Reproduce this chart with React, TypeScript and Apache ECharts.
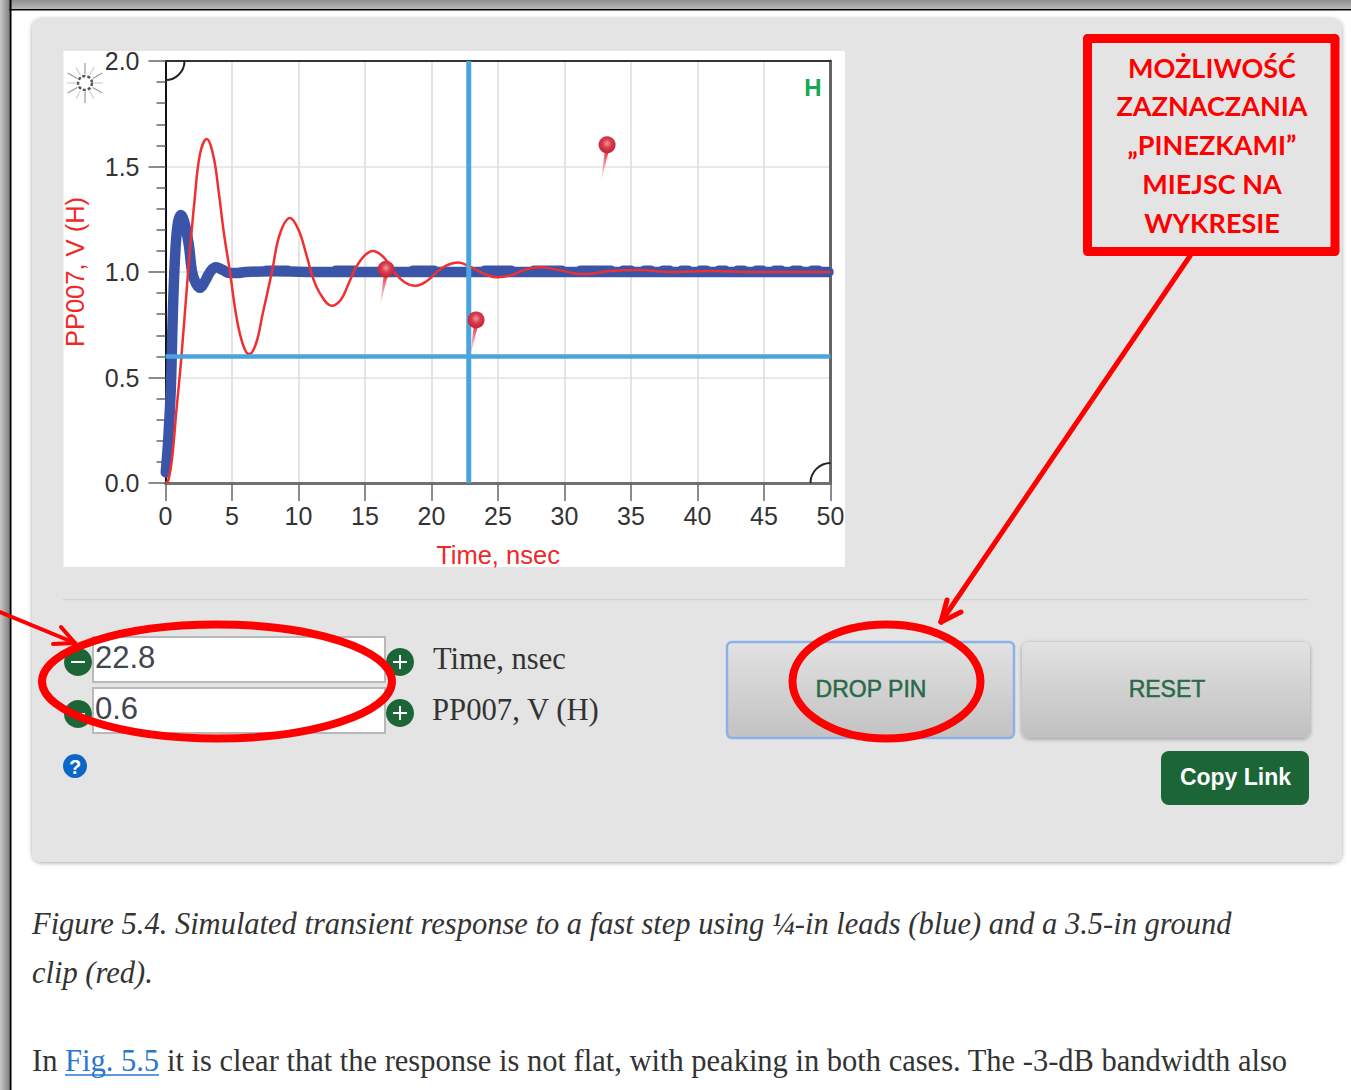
import React, { useEffect, useRef } from "react";
import * as echarts from "echarts";

const redTimes = [0, 0.2, 0.5, 0.8, 1.2, 1.7, 2.2, 2.6, 3.1, 3.6, 4.0, 4.4, 4.85, 5.3, 5.8, 6.28, 6.8, 7.3, 8.0, 8.6, 9.36, 10.0, 10.6, 11.1, 11.6, 12.5, 13.2, 13.8, 14.3, 15.0, 15.6, 16.4, 17.2, 18.0, 18.8, 19.6, 20.4, 21.1, 22.0, 22.9, 24.0, 25.0, 26.0, 27.0, 28.2, 29.5, 31.4, 33.5, 35.5, 38.0, 41.0, 44.0, 47.0, 50.0];
const redValues = [0, 0.01, 0.12, 0.33, 0.6, 1.0, 1.35, 1.56, 1.63, 1.55, 1.38, 1.18, 1.0, 0.8, 0.66, 0.61, 0.66, 0.8, 1.0, 1.18, 1.256, 1.2, 1.08, 0.97, 0.9, 0.84, 0.87, 0.95, 1.02, 1.08, 1.1, 1.07, 1.0, 0.95, 0.935, 0.955, 1.0, 1.03, 1.045, 1.025, 0.99, 0.975, 0.985, 1.01, 1.023, 1.01, 0.99, 1.005, 1.01, 1.0, 1.005, 1.0, 1.0, 1.0];

const blueTimes = [0.02, 0.2, 0.4, 0.55, 0.7, 0.9, 1.15, 1.4, 1.75, 2.0, 2.3, 2.6, 3.0, 3.4, 3.8, 4.3, 4.8, 5.4, 6.0, 8.0, 12.0, 20.0, 30.0, 40.0, 49.85];
const blueValues = [0.05, 0.2, 0.45, 0.8, 1.05, 1.22, 1.27, 1.24, 1.13, 1.0, 0.945, 0.925, 0.96, 1.005, 1.022, 1.01, 0.995, 0.995, 1.0, 1.003, 1.0, 1.0, 1.0, 1.0, 1.0];

const blueBumpStarts = [7.6, 12.8, 18.6, 24.0, 27.7, 31.2, 34.4, 36.0, 37.4, 38.8, 40.2, 41.6, 43.0, 44.4, 45.8, 47.2, 48.6];
const blueBumpEnds = [9.2, 14.2, 20.2, 26.0, 29.8, 33.5, 35.0, 36.5, 37.9, 39.3, 40.7, 42.1, 43.5, 44.9, 46.3, 47.7, 49.1];
const blueBumpLevel = 1.012;

const pinTimes = [16.13, 22.9, 32.75];
const pinValues = [0.84, 0.6, 1.43];

const cursorTime = 22.8;
const cursorValue = 0.6;

const yTickLabels = ["0.0", "0.5", "1.0", "1.5", "2.0"];
const xName = "Time, nsec";
const yName = "PP007, V (H)";
const annotationLines = ["MOŻLIWOŚĆ", "ZAZNACZANIA", "„PINEZKAMI”", "MIEJSC NA", "WYKRESIE"];

const GREEN = "#1b6537";
const RED = "#ff0000";
const SANS = "Liberation Sans";
const SERIF = "Liberation Serif";

function txt(x: number, y: number, text: string, font: string, fill: string, align = "left", z = 5, extra: any = {}) {
  return { type: "text", z, silent: true, style: { x, y, text, font, fill, align, verticalAlign: "middle", ...extra } };
}
function rect(x: number, y: number, width: number, height: number, style: any, r = 0, z = -1) {
  return { type: "rect", z, silent: true, shape: { x, y, width, height, r }, style };
}
function seg(x1: number, y1: number, x2: number, y2: number, stroke: string, lineWidth: number, z = 50, cap = "round") {
  return { type: "line", z, silent: true, shape: { x1, y1, x2, y2 }, style: { stroke, lineWidth, lineCap: cap } };
}
function vGrad(a: string, b: string) {
  return new echarts.graphic.LinearGradient(0, 0, 0, 1, [{ offset: 0, color: a }, { offset: 1, color: b }]);
}
function hGrad(a: string, b: string) {
  return new echarts.graphic.LinearGradient(0, 0, 1, 0, [{ offset: 0, color: a }, { offset: 1, color: b }]);
}
function stepButton(cx: number, cy: number, plus: boolean) {
  const items: any[] = [
    { type: "circle", z: 3, silent: true, shape: { cx, cy, r: 14 }, style: { fill: GREEN } },
    seg(cx - 7, cy, cx + 7, cy, "#ffffff", 2, 4, "butt"),
  ];
  if (plus) items.push(seg(cx, cy - 7, cx, cy + 7, "#ffffff", 2, 4, "butt"));
  return items;
}
function logo(cx: number, cy: number) {
  const items: any[] = [
    { type: "circle", z: 3, silent: true, shape: { cx, cy, r: 7 }, style: { fill: "none", stroke: "#555", lineWidth: 2.5, lineDash: [3, 2] } },
  ];
  for (let i = 0; i < 12; i++) {
    const a = (i * Math.PI) / 6;
    const major = i % 2 === 1;
    const r2 = major ? 20 : 18;
    items.push(seg(cx + Math.cos(a) * 9, cy + Math.sin(a) * 9, cx + Math.cos(a) * r2, cy + Math.sin(a) * r2, major ? "#9a9a9a" : "#d0d0d0", 1.2, 3, "butt"));
  }
  return items;
}

function pinItem(params: any, api: any) {
  const [x, y] = api.coord([api.value(0), api.value(1)]);
  return {
    type: "group",
    children: [
      {
        type: "polygon",
        shape: { points: [[x, y], [x + 3.5, y - 29], [x + 7.5, y - 29]] },
        style: { fill: new echarts.graphic.LinearGradient(0, 0, 0, 1, [{ offset: 0, color: "#f04050" }, { offset: 1, color: "rgba(250,130,140,0.15)" }]) },
      },
      {
        type: "circle",
        shape: { cx: x + 6, cy: y - 36.5, r: 8.5 },
        style: {
          fill: new echarts.graphic.RadialGradient(0.5, 0.42, 0.6, [
            { offset: 0, color: "#ec9aa0" },
            { offset: 0.45, color: "#d93a4c" },
            { offset: 1, color: "#c22034" },
          ]),
        },
      },
    ],
  };
}

export default function App() {
  const ref = useRef<HTMLDivElement>(null);
  useEffect(() => {
    const chart = echarts.init(ref.current!, undefined, { renderer: "svg" });
    const bumps: any[] = [];
    blueBumpStarts.forEach((s, i) => {
      bumps.push([s, blueBumpLevel], [blueBumpEnds[i], blueBumpLevel], [null, null]);
    });
    const labelStyle = { color: "#333", fontFamily: SANS, fontSize: 25 };
    const nameStyle = { color: "#f02828", fontFamily: SANS, fontSize: 25.5 };
    const btnStroke = { stroke: "#2a6a4a", lineWidth: 0.5 };
    const graphic: any[] = [
      rect(0, 0, 1351, 1090, { fill: "#ffffff" }, 0, -5),
      rect(0, 0, 1351, 9, { fill: vGrad("#8f8f8f", "#b8b8b8") }, 0, -4),
      rect(0, 9, 1351, 1.6, { fill: "#000" }, 0, -4),
      rect(0, 0, 9.5, 1090, { fill: hGrad("#c8c8c8", "#808080") }, 0, -4),
      rect(9.5, 0, 2, 1090, { fill: "#000" }, 0, -4),
      rect(32, 18, 1310, 844, { fill: "#e4e4e4", shadowBlur: 4, shadowColor: "rgba(0,0,0,0.35)", shadowOffsetY: 1 }, 9, -3),
      rect(63.5, 51, 781.5, 516, { fill: "#ffffff" }, 0, -2),
      seg(63, 599.5, 1308, 599.5, "#d2d2d2", 1.5, -2, "butt"),

      // inputs
      rect(93, 637, 292, 45, { fill: "#fff", stroke: "#b9b9b9", lineWidth: 2 }, 0, 4),
      rect(93, 688, 292, 45, { fill: "#fff", stroke: "#b9b9b9", lineWidth: 2 }, 0, 4),
      txt(95, 657.5, "22.8", `31px "${SANS}"`, "#3f4650"),
      txt(95, 708.5, "0.6", `31px "${SANS}"`, "#3f4650"),
      ...stepButton(78, 662, false),
      ...stepButton(78, 714, false),
      ...stepButton(400, 662, true),
      ...stepButton(400, 713, true),
      txt(433, 659, "Time, nsec", `30.5px "${SERIF}"`, "#333"),
      txt(432, 710, "PP007, V (H)", `30.7px "${SERIF}"`, "#333"),
      { type: "circle", z: 3, silent: true, shape: { cx: 75, cy: 766, r: 12 }, style: { fill: "#0a66c8" } },
      txt(75, 767, "?", `bold 20px "${SANS}"`, "#fff", "center"),

      // buttons
      rect(727, 642, 287, 96, { fill: vGrad("#e2e2e2", "#c2c2c2"), stroke: "#8cb0e8", lineWidth: 2.5 }, 5, 2),
      rect(1022, 642, 288, 96, { fill: vGrad("#e2e2e2", "#c0c0c0"), shadowBlur: 4, shadowColor: "rgba(0,0,0,0.35)", shadowOffsetY: 1 }, 7, 2),
      txt(871, 689, "DROP PIN", `23px "${SANS}"`, "#2a6a4a", "center", 5, btnStroke),
      txt(1167, 689, "RESET", `23px "${SANS}"`, "#2a6a4a", "center", 5, btnStroke),
      rect(1161, 751, 148, 54, { fill: GREEN }, 8, 2),
      txt(1235.5, 777, "Copy Link", `bold 23px "${SANS}"`, "#ffffff", "center"),

      // caption
      txt(32, 924, "Figure 5.4. Simulated transient response to a fast step using ¼-in leads (blue) and a 3.5-in ground", `italic 30.5px "${SERIF}"`, "#333"),
      txt(32, 973, "clip (red).", `italic 30.5px "${SERIF}"`, "#333"),
      txt(32, 1061, "In", `30.5px "${SERIF}"`, "#333"),
      txt(65, 1061, "Fig. 5.5", `30.5px "${SERIF}"`, "#2a77cc"),
      seg(65, 1075, 159, 1075, "#2a77cc", 1.5, 5, "butt"),
      txt(167, 1061, "it is clear that the response is not flat, with peaking in both cases. The -3-dB bandwidth also", `30.5px "${SERIF}"`, "#333"),

      // plot decoration
      { type: "arc", z: 20, silent: true, shape: { cx: 165.5, cy: 61, r: 19, startAngle: 0, endAngle: Math.PI / 2 }, style: { stroke: "#222", lineWidth: 2, fill: "none" } },
      { type: "arc", z: 20, silent: true, shape: { cx: 830.5, cy: 483, r: 20, startAngle: Math.PI, endAngle: Math.PI * 1.5 }, style: { stroke: "#222", lineWidth: 2, fill: "none" } },
      txt(813, 87, "H", `bold 24px "${SANS}"`, "#1aa653", "center", 20),
      ...logo(85, 83),

      // annotation
      rect(1087.5, 38.5, 247.5, 213, { fill: "none", stroke: RED, lineWidth: 9, lineJoin: "round" }, 0, 60),
      ...annotationLines.map((t, i) => txt(1212, 67 + i * 38.8, t, `bold 27px "Lato"`, RED, "center", 60)),
      seg(1190, 256, 941, 622, RED, 5, 60),
      seg(941, 622, 961, 612, RED, 5, 60),
      seg(941, 622, 947, 600, RED, 5, 60),
      seg(0, 612, 75, 643, RED, 4, 60),
      seg(75, 643, 61, 627, RED, 4, 60),
      seg(75, 643, 53, 644, RED, 4, 60),
      { type: "ellipse", z: 60, silent: true, shape: { cx: 217, cy: 681.5, rx: 175, ry: 57 }, style: { fill: "none", stroke: RED, lineWidth: 8 } },
      { type: "ellipse", z: 60, silent: true, shape: { cx: 886.5, cy: 681.5, rx: 94, ry: 57 }, style: { fill: "none", stroke: RED, lineWidth: 8 } },
    ];
    chart.setOption({
      animation: false,
      backgroundColor: "transparent",
      graphic,
      grid: { left: 165.5, top: 61, width: 665, height: 422, containLabel: false },
      xAxis: [
        {
          type: "value", min: 0, max: 50, interval: 5,
          name: xName, nameLocation: "middle", nameGap: 59, nameTextStyle: nameStyle,
          axisLine: { show: true, onZero: false, lineStyle: { color: "#707070", width: 3 } },
          axisTick: { show: true, length: 18, lineStyle: { color: "#666", width: 1.5 } },
          axisLabel: { ...labelStyle, margin: 20 },
          splitLine: { show: true, lineStyle: { color: "#dcdcdc", width: 1.5 } },
        },
        {
          type: "value", min: 0, max: 50, position: "top",
          axisLine: { show: true, onZero: false, lineStyle: { color: "#333", width: 2 } },
          axisTick: { show: false }, axisLabel: { show: false }, splitLine: { show: false },
        },
      ],
      yAxis: [
        {
          type: "value", min: 0, max: 2, interval: 0.5,
          name: yName, nameLocation: "middle", nameGap: 78, nameTextStyle: nameStyle,
          axisLine: { show: true, onZero: false, lineStyle: { color: "#111", width: 2 } },
          axisTick: { show: true, length: 17, lineStyle: { color: "#666", width: 1.5 } },
          minorTick: { show: true, splitNumber: 5, length: 9, lineStyle: { color: "#666", width: 1.5 } },
          axisLabel: { ...labelStyle, margin: 26, formatter: (v: number) => yTickLabels[Math.round(v / 0.5)] },
          splitLine: { show: true, lineStyle: { color: "#e2e2e2", width: 1.5 } },
        },
        {
          type: "value", min: 0, max: 2, position: "right",
          axisLine: { show: true, onZero: false, lineStyle: { color: "#666", width: 3 } },
          axisTick: { show: false }, axisLabel: { show: false }, splitLine: { show: false },
        },
      ],
      series: [
        {
          name: "¼-in leads", type: "line", symbol: "none", smooth: 0.35, clip: false, z: 3,
          data: blueTimes.map((t, i) => [t, blueValues[i]]),
          lineStyle: { color: "#3a55a8", width: 10.5, cap: "round", join: "round" },
        },
        {
          name: "¼-in leads ripple", type: "line", symbol: "none", clip: false, z: 3, connectNulls: false,
          data: bumps,
          lineStyle: { color: "#3a55a8", width: 8, cap: "round" },
        },
        {
          name: "3.5-in ground clip", type: "line", symbol: "none", smooth: 0.4, z: 4,
          data: redTimes.map((t, i) => [t, redValues[i]]),
          lineStyle: { color: "#f03030", width: 2.5 },
        },
        {
          name: "time cursor", type: "line", symbol: "none", z: 5,
          data: [[cursorTime, 0], [cursorTime, 2]],
          lineStyle: { color: "#4aa5dc", width: 5 },
        },
        {
          name: "value cursor", type: "line", symbol: "none", z: 5,
          data: [[0, cursorValue], [50, cursorValue]],
          lineStyle: { color: "#4aa5dc", width: 4.5 },
        },
        {
          name: "pins", type: "custom", z: 6, clip: false,
          encode: { x: 0, y: 1 },
          data: pinTimes.map((t, i) => [t, pinValues[i]]),
          renderItem: pinItem,
        },
      ],
    });
    return () => chart.dispose();
  }, []);
  return <div ref={ref} style={{ position: "absolute", left: 0, top: 0, width: 1351, height: 1090 }} />;
}
